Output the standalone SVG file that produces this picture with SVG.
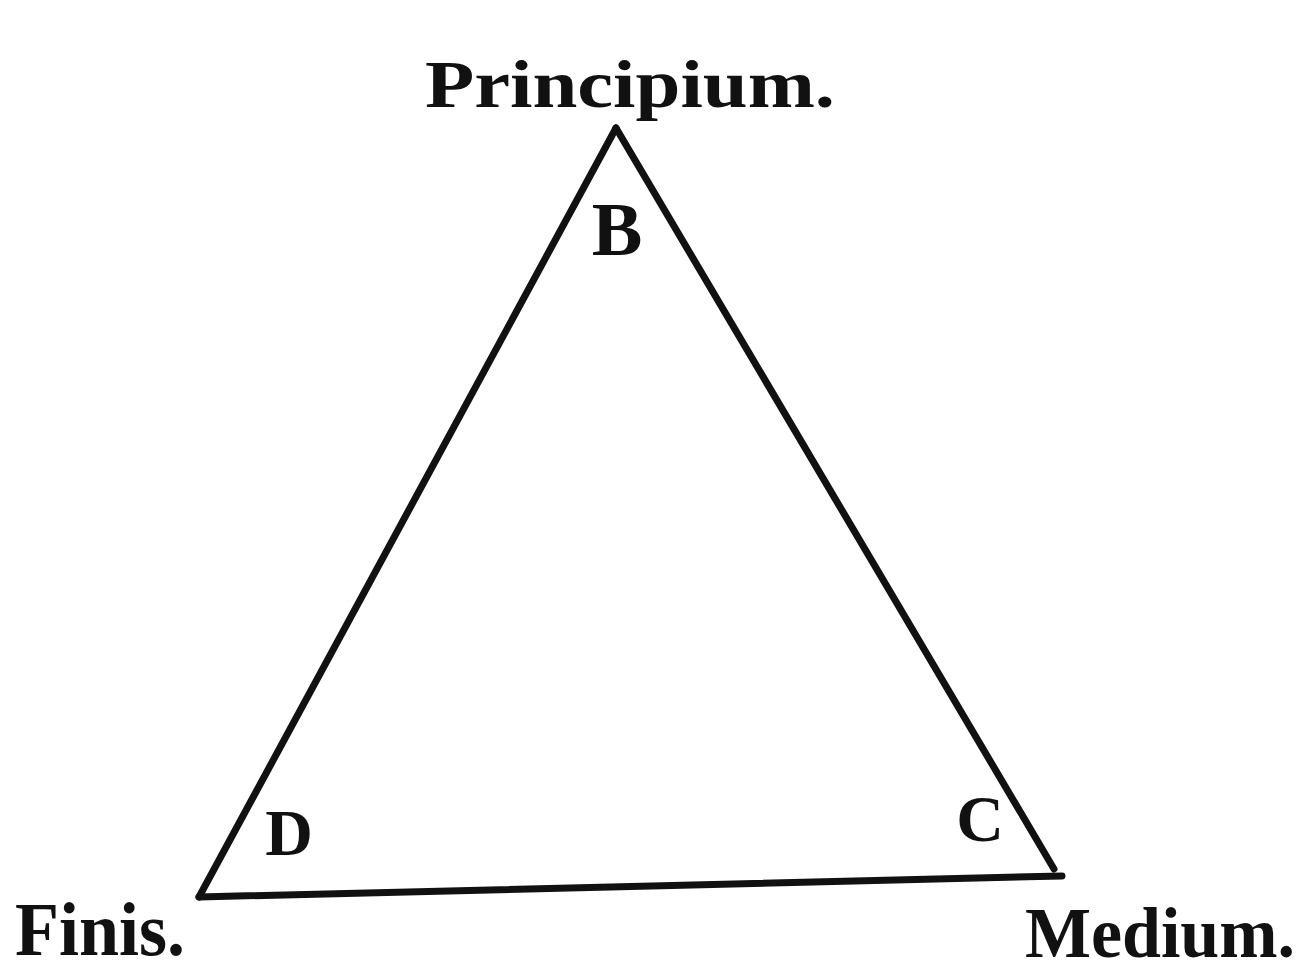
<svg xmlns="http://www.w3.org/2000/svg" width="1304" height="978" viewBox="0 0 1304 978">
<style>
.lbl{font-family:"Liberation Serif","DejaVu Serif",serif;font-weight:bold;fill:#111;}
.edge{stroke:#111;stroke-width:7;fill:none;stroke-linecap:round;stroke-linejoin:miter;}
</style>
<rect width="1304" height="978" fill="#fff"/>
<g id="connectors">
<line class="edge" x1="616" y1="128" x2="199" y2="897"/>
<line class="edge" x1="616" y1="128" x2="1054" y2="869"/>
<line class="edge" x1="199" y1="897" x2="1062" y2="876"/>
</g>
<g id="node-principium"><text class="lbl" x="425" y="107" font-size="68" textLength="410" lengthAdjust="spacingAndGlyphs">Principium.</text></g>
<g id="node-B"><text class="lbl" x="617" y="255" font-size="76" text-anchor="middle">B</text></g>
<g id="node-D"><text class="lbl" x="289" y="855" font-size="66" text-anchor="middle">D</text></g>
<g id="node-C"><text class="lbl" x="980" y="841" font-size="66" text-anchor="middle">C</text></g>
<g id="node-finis"><text class="lbl" x="15" y="955" font-size="76" textLength="170" lengthAdjust="spacingAndGlyphs">Finis.</text></g>
<g id="node-medium"><text class="lbl" x="1025" y="957" font-size="72" textLength="270" lengthAdjust="spacingAndGlyphs">Medium.</text></g>
</svg>
